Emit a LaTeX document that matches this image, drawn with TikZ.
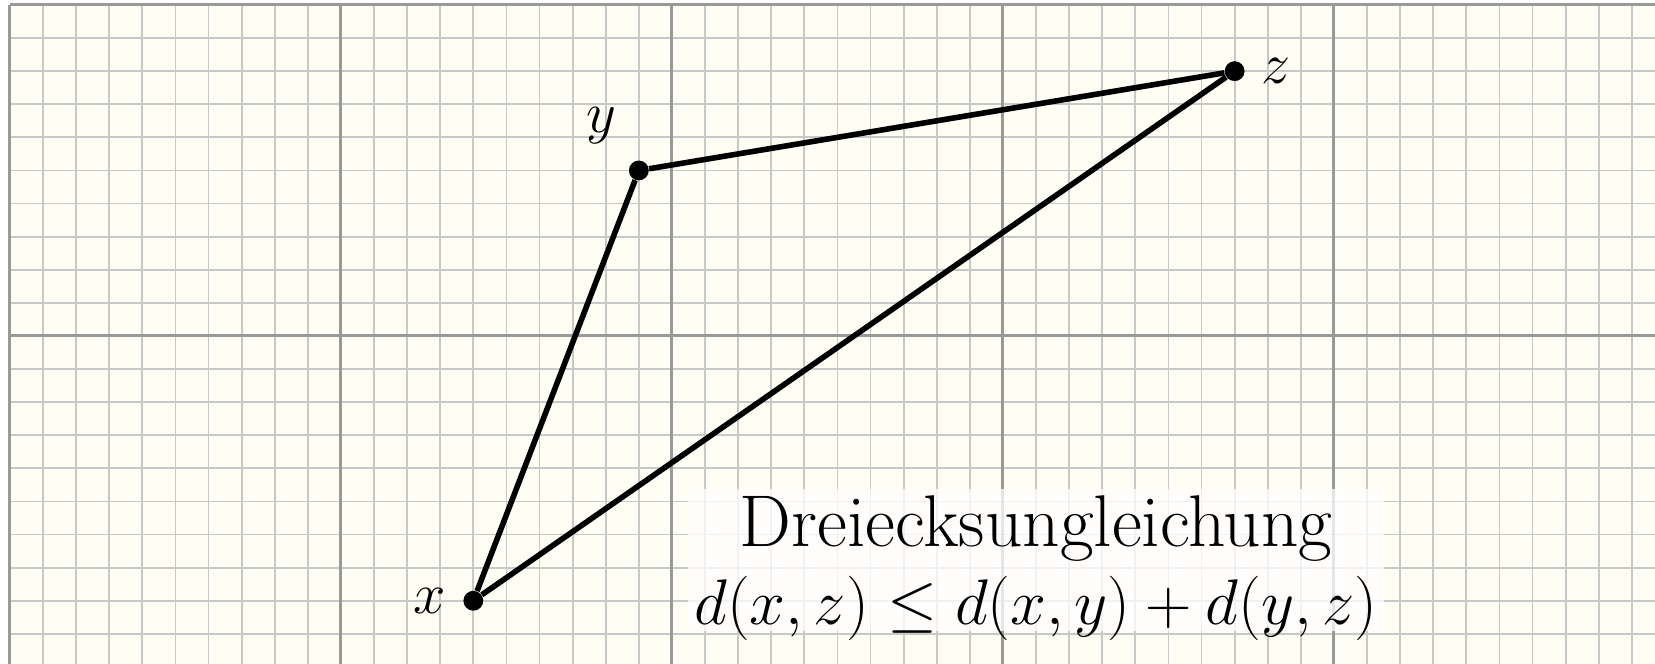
\RequirePackage{fix-cm}
\documentclass[tikz,border=0pt]{standalone}
\usepackage{amsmath,amssymb}
\usepackage{xcolor}
\usetikzlibrary{positioning}
\definecolor{paper}{HTML}{FFFEF5}
\definecolor{gridminor}{HTML}{C8C8C8}
\definecolor{gridmajor}{HTML}{999999}

\begin{document}
\begin{tikzpicture}[
    x=0.5cm, y=0.5cm,
    minorgrid/.style={draw=gridminor, line width=0.8pt},
    majorgrid/.style={draw=gridmajor, line width=1.3pt},
    vertex/.style={circle, fill=black, inner sep=0pt, minimum size=0.3cm},
    side/.style={line width=2.4pt, line join=round},
    lbl/.style={anchor=center, font=\fontsize{25}{30}\selectfont},
    statement/.style={fill=white, fill opacity=0.75, text opacity=1,
                      align=center, inner xsep=0.1cm, inner ysep=0.1cm,
                      font=\fontsize{27.7}{33.5}\selectfont},
]
% Frame
\useasboundingbox (-0.3,-9.91) rectangle (49.7,10.15);
\clip (-0.3,-9.91) rectangle (49.7,10.15);

% Grid paper
\fill[paper] (0,-10) rectangle (51,10);
\draw[minorgrid] (0,-10) grid[step=0.5cm] (51,10);
\draw[majorgrid] (0,-10) grid[step=5cm] (51,10);

% Points
\node[vertex, label={[lbl, label distance=0.495cm]180:$x$}] (px) at (14,-8) {};
\node[vertex, label={[lbl, label distance=0.72cm]130:$y$}] (py) at (19,5) {};
\node[vertex, label={[lbl, label distance=0.465cm]0:$z$}] (pz) at (37,8) {};

% Sides
\draw[side] (px) -- (py);
\draw[side] (py) -- (pz);
\draw[side] (px) -- (pz);

% Statement
\node[statement, anchor=north] (ineq) at (31,-4.6)
     {{\fontsize{31.5}{33.5}\selectfont Dreiecksungleichung}\\
      \smash[b]{$d(x,z) \leq d(x,y) + d(y,z)$}};
\end{tikzpicture}
\end{document}
